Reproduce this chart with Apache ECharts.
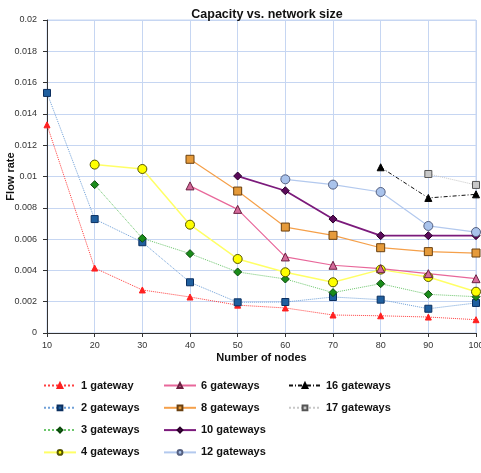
<!DOCTYPE html>
<html>
<head>
<meta charset="utf-8">
<script src="https://cdn.jsdelivr.net/npm/echarts@6/dist/echarts.min.js"></script>
<style>html,body{margin:0;padding:0;background:#fff}#c{width:481px;height:473px}</style>
</head>
<body>
<div id="c"></div>
<script>
const nodes = [10, 20, 30, 40, 50, 60, 70, 80, 90, 100];
const gw1  = [0.0133, 0.00415, 0.00275, 0.0023, 0.00178, 0.0016, 0.00115, 0.0011, 0.00102, 0.00085];
const gw2  = [0.01534, 0.00728, 0.0058, 0.00324, 0.00196, 0.00198, 0.0023, 0.00213, 0.00155, 0.00192];
const gw3  = [null, 0.00948, 0.00605, 0.00507, 0.0039, 0.00345, 0.00258, 0.00315, 0.00247, 0.00232];
const gw4  = [null, 0.01076, 0.01048, 0.00692, 0.00473, 0.00388, 0.00324, 0.00405, 0.00358, 0.00264];
const gw6  = [null, null, null, 0.0094, 0.0079, 0.00486, 0.00433, 0.00411, 0.00379, 0.00347];
const gw8  = [null, null, null, 0.0111, 0.00907, 0.00677, 0.00624, 0.00545, 0.0052, 0.00511];
const gw10 = [null, null, null, null, 0.01003, 0.00909, 0.00728, 0.00622, 0.00622, 0.00622];
const gw12 = [null, null, null, null, null, 0.00982, 0.00948, 0.00901, 0.00684, 0.00645];
const gw16 = [null, null, null, null, null, null, null, 0.01059, 0.00863, 0.00886];
const gw17 = [null, null, null, null, null, null, null, null, 0.01016, 0.00946];
const yTicks = ['0', '0.002', '0.004', '0.006', '0.008', '0.01', '0.012', '0.014', '0.016', '0.018', '0.02'];

function pairs(arr) {
  const out = [];
  arr.forEach((v, i) => { if (v !== null) out.push([nodes[i], v]); });
  return out;
}
function mk(name, data, lineColor, lineType, width, symbol, size, fill, border) {
  return {
    name: name, type: 'line', data: pairs(data),
    symbol: symbol, symbolSize: size,
    lineStyle: { color: lineColor, type: lineType, width: width },
    itemStyle: { color: fill, borderColor: border, borderWidth: 1 },
    color: lineColor,
    emphasis: { disabled: true },
    animation: false
  };
}
const series = [
  mk('1 gateway', gw1, '#ff4040', 'dotted', 1, 'triangle', 6, '#ff2020', '#ff2020'),
  mk('2 gateways', gw2, '#6fa0d8', 'dotted', 1, 'rect', 7, '#1f5f9f', '#0b2f5f'),
  mk('3 gateways', gw3, '#6cc66c', 'dotted', 1, 'diamond', 8, '#1a8c1a', '#0b4a0b'),
  mk('4 gateways', gw4, '#ffff66', 'solid', 1.5, 'circle', 9, '#ffff00', '#555500'),
  mk('6 gateways', gw6, '#e8679a', 'solid', 1.2, 'triangle', 8, '#d46a9a', '#6a2040'),
  mk('8 gateways', gw8, '#f5a04a', 'solid', 1.2, 'rect', 8, '#e59a3a', '#6a4010'),
  mk('10 gateways', gw10, '#7b1a7b', 'solid', 1.8, 'diamond', 8, '#5a0a5a', '#2a002a'),
  mk('12 gateways', gw12, '#b3c9ee', 'solid', 1.2, 'circle', 9, '#a9c3ec', '#556080'),
  mk('16 gateways', gw16, '#111111', [4, 2, 1, 2], 1, 'triangle', 7, '#000000', '#000000'),
  mk('17 gateways', gw17, '#c8c8c8', 'dotted', 1, 'rect', 7, '#c8c8c8', '#555555')
];
const legendBase = {
  orient: 'vertical', top: 375, itemWidth: 32, itemHeight: 6, itemGap: 11.3,
  textStyle: { fontFamily: 'Liberation Sans', fontWeight: 'bold', fontSize: 11, color: '#111' },
  selectedMode: false
};
const chart = echarts.init(document.getElementById('c'), null, { renderer: 'canvas' });
chart.setOption({
  backgroundColor: '#fff',
  animation: false,
  title: {
    text: 'Capacity vs. network size', left: 262, top: 3, textAlign: 'center',
    textStyle: { fontFamily: 'Liberation Sans', fontWeight: 'bold', fontSize: 12.5, color: '#111' }
  },
  legend: [
    Object.assign({}, legendBase, { left: 38, data: ['1 gateway', '2 gateways', '3 gateways', '4 gateways'] }),
    Object.assign({}, legendBase, { left: 158, data: ['6 gateways', '8 gateways', '10 gateways', '12 gateways'] }),
    Object.assign({}, legendBase, { left: 283, data: ['16 gateways', '17 gateways'] })
  ],
  grid: { left: 47, right: 5, top: 20, bottom: 140, containLabel: false, outerBoundsMode: 'none',
    show: true, borderColor: '#c6d6f2', borderWidth: 1 },
  xAxis: {
    type: 'value', min: 10, max: 100, interval: 10,
    name: 'Number of nodes', nameLocation: 'middle', nameGap: 19, nameMoveOverlap: false,
    nameTextStyle: { fontFamily: 'Liberation Sans', fontWeight: 'bold', fontSize: 11, color: '#111' },
    axisLine: { show: true, lineStyle: { color: '#333', width: 1 } },
    axisTick: { show: true, length: 4, lineStyle: { color: '#333' } },
    axisLabel: { fontFamily: 'Liberation Sans', fontSize: 9, color: '#333', margin: 8 },
    splitLine: { show: true, lineStyle: { color: '#c6d6f2', width: 1 } }
  },
  yAxis: {
    type: 'value', min: 0, max: 0.02, interval: 0.002,
    name: 'Flow rate', nameLocation: 'middle', nameGap: 31, nameRotate: 90, nameMoveOverlap: false,
    nameTextStyle: { fontFamily: 'Liberation Sans', fontWeight: 'bold', fontSize: 11, color: '#111' },
    axisLine: { show: true, lineStyle: { color: '#333', width: 1 } },
    axisTick: { show: true, length: 4, lineStyle: { color: '#333' } },
    axisLabel: { fontFamily: 'Liberation Sans', fontSize: 9, color: '#333', margin: 10,
      formatter: function (v) { return yTicks[Math.round(v / 0.002)]; } },
    splitLine: { show: true, lineStyle: { color: '#c6d6f2', width: 1 } }
  },
  series: series
});
</script>
</body>
</html>
